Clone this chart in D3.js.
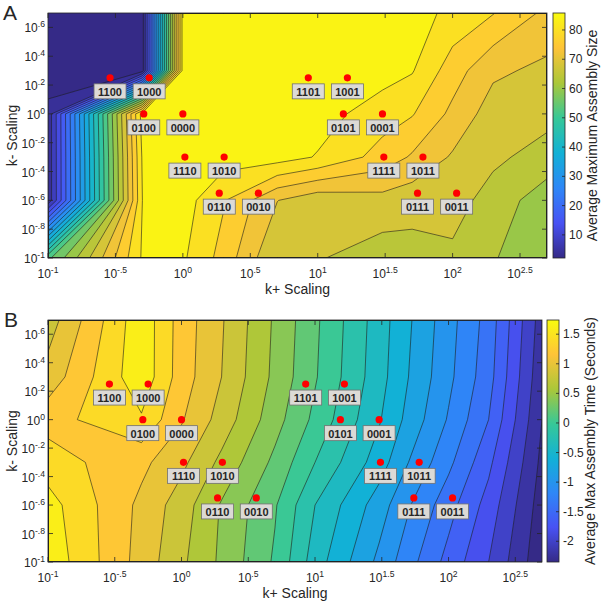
<!DOCTYPE html>
<html lang="en">
<head>
<meta charset="utf-8">
<script src="https://cdn.jsdelivr.net/npm/d3@7"></script>
<style>
  body { margin: 0; background: #fff; }
  text { font-family: "Liberation Sans", Arial, sans-serif; fill: #262626; }
</style>
</head>
<body>
<script>
// simulation grid: log10 of the k+ and k- scaling factors
var xNodes = [-1, -0.3, 0, 0.3, 0.7, 1, 1.48, 1.7, 2, 2.3, 2.7];
var yNodes = [0.7, 0.3, 0, -0.3, -0.6, -1];

// average maximum assembly size, one row per y node (top to bottom)
var sizeGrid = [
  [2.1, 2.1, 85.8, 85.8, 85.8, 85.8, 85.8, 85.8, 82.9, 80.2, 75.0],
  [2.1, 2.1, 85.8, 85.8, 85.8, 85.8, 85.8, 84.3, 77.9, 72.8, 71.0],
  [5.0, 85.8, 85.8, 85.8, 85.8, 85.8, 81.8, 80.3, 75.0, 70.0, 69.5],
  [5.0, 84.5, 85.8, 85.8, 85.8, 83.7, 78.4, 75.5, 71.5, 69.0, 66.0],
  [5.0, 84.0, 85.8, 80.4, 72.1, 69.3, 70.5, 69.5, 70.0, 66.0, 62.0],
  [55.0, 84.5, 84.6, 78.5, 68.1, 68.3, 66.0, 66.5, 67.0, 64.3, 61.0]
];

// average max assembly time (log10 seconds)
var timeGrid = [
  [0.90, 1.74, 1.31, 1.02, 0.57, 0.24, -0.30, -0.57, -0.92, -1.28, -2.10],
  [1.08, 1.74, 1.30, 1.00, 0.55, 0.22, -0.32, -0.60, -0.95, -1.32, -2.15],
  [1.32, 1.575, 1.22, 0.92, 0.48, 0.15, -0.38, -0.66, -1.02, -1.40, -2.20],
  [1.50, 1.25, 1.05, 0.75, 0.35, 0.00, -0.50, -0.80, -1.15, -1.55, -2.25],
  [1.68, 1.15, 0.90, 0.58, 0.22, -0.20, -0.70, -0.98, -1.32, -1.68, -2.30],
  [1.74, 1.12, 0.84, 0.56, 0.17, -0.30, -0.85, -1.12, -1.47, -1.80, -2.35]
];

var xTicks = [-1, -0.5, 0, 0.5, 1, 1.5, 2, 2.5];
var xTickLabels = ["-1", "-.5", "0", ".5", "1", "1.5", "2", "2.5"];
var yTicks = [0.6, 0.4, 0.2, 0, -0.2, -0.4, -0.6, -0.8, -1];
var yTickLabels = [".6", ".4", ".2", "0", "-.2", "-.4", "-.6", "-.8", "-1"];

// the sixteen designs marked on both maps
var designs = ["1100", "1000", "0100", "0000", "1110", "1010", "0110", "0010",
               "1101", "1001", "0101", "0001", "1111", "1011", "0111", "0011"];
var designX = [-0.54, -0.25, -0.29, 0.0, 0.015, 0.306, 0.27, 0.56,
               0.93, 1.22, 1.19, 1.48, 1.49, 1.78, 1.74, 2.03];
var designY = [0.25, 0.25, 0.0, 0.0, -0.3, -0.3, -0.55, -0.55,
               0.25, 0.25, 0.0, 0.0, -0.3, -0.3, -0.55, -0.55];

var sizeTicks = [10, 20, 30, 40, 50, 60, 70, 80];
var timeTicks = [-2, -1.5, -1, -0.5, 0, 0.5, 1, 1.5];

// parula colormap stops
var parulaPos = [0, 1/7, 2/7, 3/7, 4/7, 5/7, 6/7, 1];
var parulaCol = ["#352a87", "#4852f4", "#2e87f7", "#12b1d6", "#37c897", "#abc739", "#fec338", "#f9fb0e"];

var w = 602, h = 602;
var svg = d3.select("body").append("svg")
    .attr("width", w)
    .attr("height", h);

// map a contour grid coordinate onto the (non uniform) node positions
function nodeMap(nodes, c) {
  var t = Math.max(0, Math.min(nodes.length - 1, c - 0.5));
  var i = Math.min(nodes.length - 2, Math.floor(t));
  return nodes[i] + (nodes[i + 1] - nodes[i]) * (t - i);
}

function supText(sel, base, exp, size) {
  sel.append("tspan").text(base);
  sel.append("tspan").attr("dy", -5).attr("font-size", size * 0.72).text(exp);
}

function drawPanel(cfg) {
  var g = svg.append("g");
  var x = d3.scaleLinear().domain([-1, 2.7]).range([cfg.left, cfg.right]);
  var y = d3.scaleLinear().domain([-1, 0.7]).range([cfg.bottom, cfg.top]);
  var parula = d3.scaleLinear().domain(parulaPos).range(parulaCol).interpolate(d3.interpolateRgb);
  var color = function(v) { return parula((v - cfg.min) / (cfg.max - cfg.min)); };

  var contours = d3.contours()
      .size([xNodes.length, yNodes.length])
      .thresholds(cfg.levels)(cfg.grid.flat());

  var path = d3.geoPath(d3.geoTransform({
    point: function(px, py) {
      this.stream.point(x(nodeMap(xNodes, px)), y(nodeMap(yNodes, py)));
    }
  }));

  var clipId = "clip" + cfg.name;
  svg.append("clipPath").attr("id", clipId)
    .append("rect")
      .attr("x", cfg.left).attr("y", cfg.top)
      .attr("width", cfg.right - cfg.left).attr("height", cfg.bottom - cfg.top);

  var plot = g.append("g").attr("clip-path", "url(#" + clipId + ")");
  plot.append("rect")
    .attr("x", cfg.left).attr("y", cfg.top)
    .attr("width", cfg.right - cfg.left).attr("height", cfg.bottom - cfg.top)
    .attr("fill", color(cfg.min));
  plot.selectAll("path.fill")
    .data(contours)
    .enter().append("path")
      .attr("class", "fill")
      .attr("d", path)
      .attr("fill", function(d) { return color(d.value); })
      .attr("stroke", function(d) { return color(d.value); })
      .attr("stroke-width", 0.3);
  plot.selectAll("path.line")
    .data(contours)
    .enter().append("path")
      .attr("class", "line")
      .attr("d", path)
      .attr("fill", "none")
      .attr("stroke", "#1e1e1e")
      .attr("stroke-width", 0.6);

  // axes box and inward ticks
  g.append("rect")
    .attr("x", cfg.left).attr("y", cfg.top)
    .attr("width", cfg.right - cfg.left).attr("height", cfg.bottom - cfg.top)
    .attr("fill", "none").attr("stroke", "#262626").attr("stroke-width", 0.8);
  xTicks.forEach(function(t, i) {
    g.append("line").attr("x1", x(t)).attr("x2", x(t))
      .attr("y1", cfg.bottom).attr("y2", cfg.bottom - 5)
      .attr("stroke", "#262626").attr("stroke-width", 0.8);
    g.append("line").attr("x1", x(t)).attr("x2", x(t))
      .attr("y1", cfg.top).attr("y2", cfg.top + 5)
      .attr("stroke", "#262626").attr("stroke-width", 0.8);
    var lab = g.append("text")
      .attr("x", x(t)).attr("y", cfg.bottom + 20)
      .attr("text-anchor", "middle")
      .attr("font-size", 12);
    supText(lab, "10", xTickLabels[i], 12);
  });
  yTicks.forEach(function(t, i) {
    g.append("line").attr("x1", cfg.left).attr("x2", cfg.left + 5)
      .attr("y1", y(t)).attr("y2", y(t))
      .attr("stroke", "#262626").attr("stroke-width", 0.8);
    g.append("line").attr("x1", cfg.right).attr("x2", cfg.right - 5)
      .attr("y1", y(t)).attr("y2", y(t))
      .attr("stroke", "#262626").attr("stroke-width", 0.8);
    var lab = g.append("text")
      .attr("x", cfg.left - 3).attr("y", y(t) + 5)
      .attr("text-anchor", "end")
      .attr("font-size", 12);
    supText(lab, "10", yTickLabels[i], 12);
  });

  g.append("text")
    .attr("x", (cfg.left + cfg.right) / 2).attr("y", cfg.bottom + 36)
    .attr("text-anchor", "middle").attr("font-size", 14)
    .text("k+ Scaling");
  g.append("text")
    .attr("transform", "translate(17," + ((cfg.top + cfg.bottom) / 2) + ") rotate(-90)")
    .attr("text-anchor", "middle").attr("font-size", 14)
    .text("k- Scaling");
  g.append("text")
    .attr("x", cfg.letterX).attr("y", cfg.top + 7)
    .attr("font-size", 21)
    .attr("fill", "#000")
    .text(cfg.name);

  // design markers and their labels
  var marks = g.selectAll("g.design")
    .data(designs)
    .enter().append("g")
      .attr("class", "design")
      .attr("transform", function(d, i) {
        return "translate(" + x(designX[i]) + "," + y(designY[i]) + ")";
      });
  marks.append("circle").attr("r", 3.6).attr("fill", "#ff0000");
  marks.append("rect")
    .attr("x", -16).attr("y", 6).attr("width", 32).attr("height", 15)
    .attr("fill", "#dcdad6").attr("stroke", "#707070").attr("stroke-width", 0.8);
  marks.append("text")
    .attr("y", 18).attr("text-anchor", "middle")
    .attr("font-size", 11).attr("font-weight", "bold")
    .attr("fill", "#111")
    .text(function(d) { return d; });

  // colorbar
  var cb = d3.scaleLinear().domain([cfg.min, cfg.max]).range([cfg.bottom, cfg.top]);
  var grad = svg.append("defs").append("linearGradient")
    .attr("id", "grad" + cfg.name)
    .attr("x1", 0).attr("y1", 1).attr("x2", 0).attr("y2", 0);
  parulaPos.forEach(function(p, i) {
    grad.append("stop").attr("offset", p).attr("stop-color", parulaCol[i]);
  });
  g.append("rect")
    .attr("x", cfg.cbX).attr("y", cfg.top)
    .attr("width", 12).attr("height", cfg.bottom - cfg.top)
    .attr("fill", "url(#grad" + cfg.name + ")")
    .attr("stroke", "#262626").attr("stroke-width", 0.8);
  cfg.ticks.forEach(function(t) {
    g.append("line").attr("x1", cfg.cbX + 12).attr("x2", cfg.cbX + 9)
      .attr("y1", cb(t)).attr("y2", cb(t))
      .attr("stroke", "#262626").attr("stroke-width", 0.8);
    g.append("text")
      .attr("x", cfg.cbX + 16).attr("y", cb(t) + 4)
      .attr("font-size", 12)
      .text(String(t));
  });
  g.append("text")
    .attr("transform", "translate(" + cfg.cbTitleX + "," + ((cfg.top + cfg.bottom) / 2) + ") rotate(-90)")
    .attr("text-anchor", "middle").attr("font-size", 14)
    .text(cfg.title);
}

drawPanel({
  name: "A", grid: sizeGrid, min: 2.1, max: 85.8,
  levels: d3.range(4, 85, 4),
  left: 48, right: 547, top: 13, bottom: 258,
  cbX: 553, cbTitleX: 597, letterX: 3,
  ticks: sizeTicks, title: "Average Maximum Assembly Size"
});
drawPanel({
  name: "B", grid: timeGrid, min: -2.35, max: 1.74,
  levels: d3.range(-22, 17, 2).map(function(k) { return k / 10; }),
  left: 48, right: 542, top: 320, bottom: 562,
  cbX: 547, cbTitleX: 595, letterX: 4,
  ticks: timeTicks, title: "Average Max Assembly Time (Seconds)"
});
</script>
</body>
</html>
